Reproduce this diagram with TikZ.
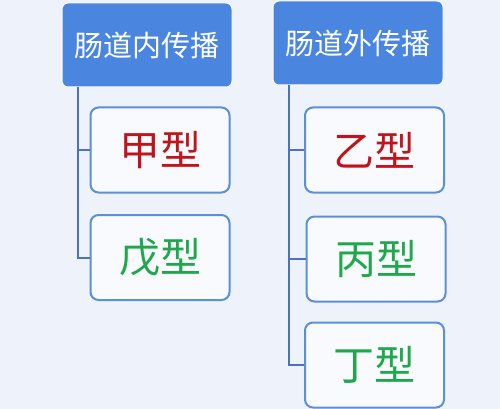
\documentclass[tikz,border=0pt]{standalone}
\usepackage{fontspec}
\newfontfamily\cjk{Noto Sans CJK SC}
\definecolor{bgblue}{HTML}{EEF2FA}
\definecolor{headblue}{HTML}{4A86E0}
\definecolor{edgeblue}{HTML}{5B8FD8}
\definecolor{lineblue}{HTML}{4A72C0}
\definecolor{boxfill}{HTML}{F8FAFD}
\definecolor{typered}{HTML}{C0141C}
\definecolor{typegreen}{HTML}{1FA84B}
\tikzset{
  headbox/.style={rectangle,rounded corners=6pt,fill=headblue,draw=white,line width=1pt,
    minimum width=170pt,minimum height=84pt,inner sep=0pt,text=white,font=\cjk\fontsize{29}{32}\selectfont},
  typebox/.style={rectangle,rounded corners=8pt,fill=boxfill,draw=edgeblue,line width=2pt,
    minimum width=139pt,minimum height=85pt,inner sep=0pt,font=\cjk\fontsize{41}{44}\selectfont},
  branch/.style={draw=lineblue,line width=2pt}
}
\begin{document}
\begin{tikzpicture}[x=1pt,y=-1pt]
					% Background
					\fill[bgblue] (0,0) rectangle (500,409);
					\useasboundingbox (0,0) rectangle (500,409);
					
					% Heads
					\node[headbox] (inner) at (147,45) {肠道内传播};
					\node[headbox] (outer) at (358,43) {肠道外传播};
					
					% Types
					\node[typebox,text=typered] (jia) at (160,150) {甲型};
					\node[typebox,text=typegreen] (wu) at (160,257.5) {戊型};
					\node[typebox,text=typered] (yi) at (374.5,150) {乙型};
					\node[typebox,text=typegreen] (bing) at (376,259) {丙型};
					\node[typebox,text=typegreen] (ding) at (374.5,365) {丁型};
					
					% Connectors
					\coordinate (innerroot) at (78,87);
					\coordinate (outerroot) at (289,85);
					\draw[branch] (innerroot) |- (jia.west);
					\draw[branch] (innerroot) |- (wu.west);
					\draw[branch] (outerroot) |- (yi.west);
					\draw[branch] (outerroot) |- (bing.west);
					\draw[branch] (outerroot) |- (ding.west);
				\end{tikzpicture}
\end{document}
